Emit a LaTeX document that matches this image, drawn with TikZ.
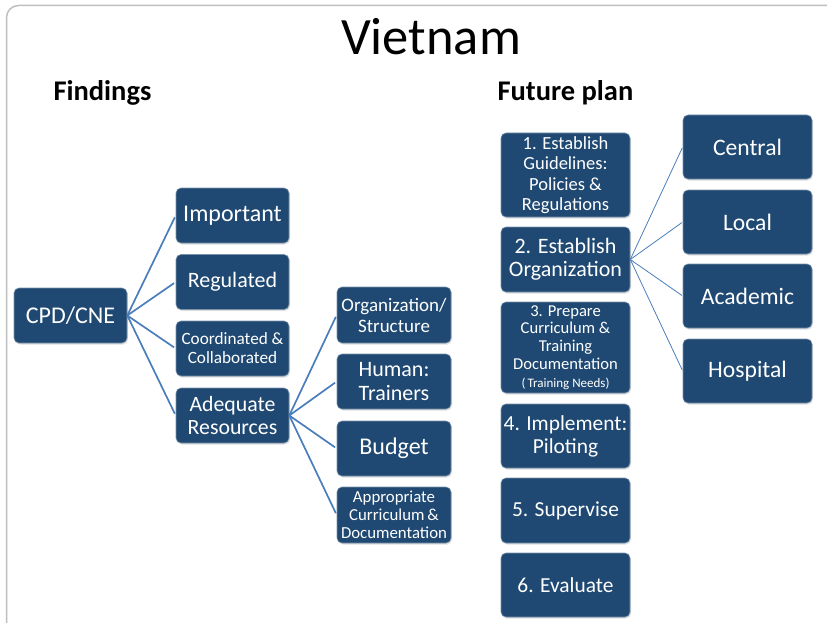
\documentclass[tikz,border=0pt]{standalone}
\usepackage{fontspec}
\setmainfont{Carlito}
\usetikzlibrary{shadows}
\definecolor{boxblue}{RGB}{31,73,114}
\definecolor{linkblue}{RGB}{74,126,187}
\definecolor{framegray}{RGB}{190,190,190}
\tikzset{
  bx/.style={draw=boxblue!60!white, line width=0.6pt, fill=boxblue, rounded corners=5pt, text=white, align=center, inner sep=0pt,
    drop shadow={opacity=0.25, shadow xshift=1pt, shadow yshift=-1.5pt}},
  lnk/.style={draw=linkblue, line width=1.7pt},
  lnkthin/.style={draw=linkblue, line width=0.8pt},
}
\begin{document}
\begin{tikzpicture}[x=1pt,y=-1pt]
\useasboundingbox (0,0) rectangle (827,623);
\draw[framegray, line width=1.5pt, rounded corners=12pt] (6.5,5.5) rectangle (900,634);
\node[font=\fontsize{52.5}{56}\selectfont] (title) at (431,37) {Vietnam};
\node[font=\fontsize{28.5}{31}\selectfont\bfseries, anchor=west] (find) at (50,93) {Findings};
\node[font=\fontsize{28.5}{31}\selectfont\bfseries, anchor=west] (fut) at (494,93) {Future plan};
% Findings
\node[bx, minimum width=113pt, minimum height=55pt, font=\fontsize{24}{26}\selectfont] (cpd) at (70.5,315.5) {CPD/CNE};
\node[bx, minimum width=113pt, minimum height=55pt, font=\fontsize{24}{26}\selectfont] (imp) at (232.5,215.5) {Important};
\node[bx, minimum width=113pt, minimum height=55pt, font=\fontsize{22}{24}\selectfont] (reg) at (232.5,282) {Regulated};
\node[bx, minimum width=113pt, minimum height=55pt, font=\fontsize{17.2}{19}\selectfont] (coo) at (232.5,348.5) {Coordinated \&\\Collaborated};
\node[bx, minimum width=113pt, minimum height=55pt, font=\fontsize{21.8}{23}\selectfont] (ade) at (232.5,415.5) {Adequate\\Resources};
\node[bx, minimum width=114pt, minimum height=56pt, font=\fontsize{19}{21}\selectfont] (org) at (394,315) {Organization/\\Structure};
\node[bx, minimum width=114pt, minimum height=55pt, font=\fontsize{22}{23.5}\selectfont] (hum) at (394,381.5) {Human:\\Trainers};
\node[bx, minimum width=114pt, minimum height=55pt, font=\fontsize{24}{26}\selectfont] (bud) at (394,448.5) {Budget};
\node[bx, minimum width=114pt, minimum height=56pt, font=\fontsize{16.8}{18}\selectfont] (app) at (394,515) {Appropriate\\Curriculum\,\&\\Documentation};
\foreach \c in {imp,reg,coo,ade} \draw[lnk, shorten >=2pt] (cpd.east) -- (\c.west);
\foreach \c in {org,hum,bud,app} \draw[lnk, shorten >=2pt] (ade.east) -- (\c.west);
% Future plan
\node[bx, minimum width=129pt, minimum height=84pt, font=\fontsize{18.5}{20.5}\selectfont] (s1) at (565.5,175) {1. Establish\\Guidelines:\\Policies \&\\Regulations};
\node[bx, minimum width=129pt, minimum height=65pt, font=\fontsize{22}{23.5}\selectfont] (s2) at (565.5,259.5) {2. Establish\\Organization};
\node[bx, minimum width=129pt, minimum height=91pt, font=\fontsize{16.6}{17.8}\selectfont] (s3) at (565.5,347.5) {3. Prepare\\Curriculum \&\\Training\\Documentation\\{\fontsize{13}{15}\selectfont (\,Training Needs)}};
\node[bx, minimum width=129pt, minimum height=64pt, font=\fontsize{21.4}{23}\selectfont] (s4) at (565.5,436) {4. Implement:\\Piloting};
\node[bx, minimum width=129pt, minimum height=65pt, font=\fontsize{21.4}{23}\selectfont] (s5) at (565.5,510.5) {5. Supervise};
\node[bx, minimum width=129pt, minimum height=64pt, font=\fontsize{21.4}{23}\selectfont] (s6) at (565.5,585) {6. Evaluate};
\node[bx, minimum width=129pt, minimum height=64pt, font=\fontsize{23.6}{26}\selectfont] (cen) at (747.5,147) {Central};
\node[bx, minimum width=129pt, minimum height=64pt, font=\fontsize{23.6}{26}\selectfont] (loc) at (747.5,222) {Local};
\node[bx, minimum width=129pt, minimum height=64pt, font=\fontsize{23.6}{26}\selectfont] (aca) at (747.5,296) {Academic};
\node[bx, minimum width=129pt, minimum height=64pt, font=\fontsize{23.6}{26}\selectfont] (hos) at (747.5,371) {Hospital};
\foreach \c in {cen,loc,aca,hos} \draw[lnkthin, shorten >=1pt] (s2.east) -- (\c.west);
\end{tikzpicture}
\end{document}
